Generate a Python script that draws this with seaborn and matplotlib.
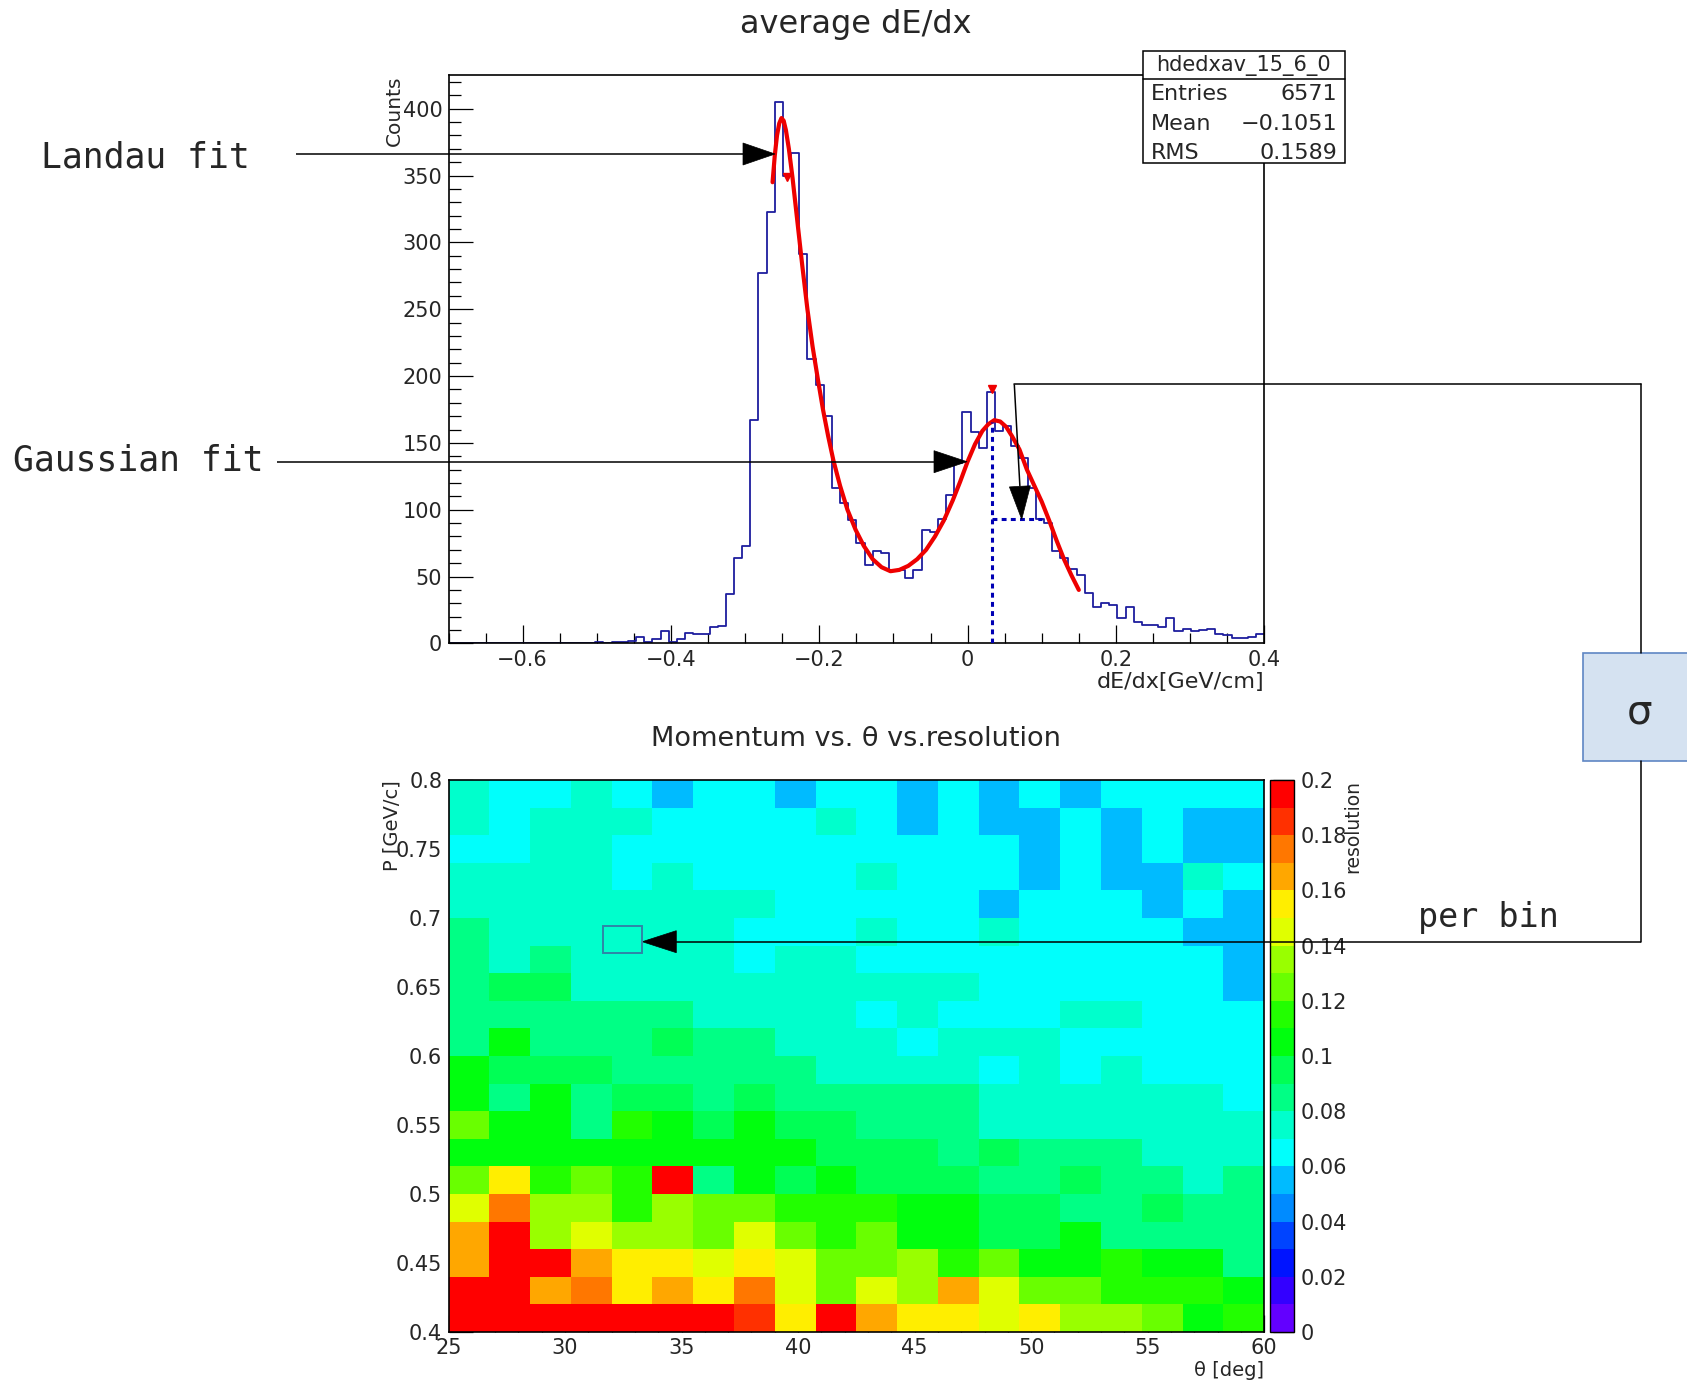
import colorsys
import numpy as np
import pandas as pd
import matplotlib
matplotlib.use("Agg")
import matplotlib.pyplot as plt
import seaborn as sns
from matplotlib.colors import ListedColormap, BoundaryNorm
from matplotlib.patches import Rectangle, Polygon

# ------------------------------------------------------------------ data
# top panel: average dE/dx histogram (100 bins from -0.7 to 0.4)
hist_range = (-0.7, 0.4)
n_bins = 100
counts = ([0] * 18 +
          [1, 0, 1, 1, 2, 5, 1, 3, 9, 1, 3, 8, 7, 7, 12, 13,
           37, 64, 73, 167, 277, 323, 405, 350, 367, 291, 213, 193, 170,
           116, 105, 92, 75, 59, 69, 68, 55, 55, 49, 55, 85, 83, 93, 111, 135,
           173, 158, 146, 188, 159, 163, 148, 139, 116, 93, 90,
           69, 64, 56, 51, 38, 27, 30, 29, 19, 27, 16, 14, 14, 12, 19, 9, 11,
           9, 10, 11, 7, 6, 4, 4, 5, 7])

# fitted Landau + Gaussian curve
fit_x = [-0.263, -0.260, -0.257, -0.254, -0.251, -0.248, -0.245, -0.241, -0.236,
         -0.230, -0.223, -0.216, -0.209, -0.202, -0.195, -0.188, -0.181, -0.172,
         -0.162, -0.151, -0.140, -0.128, -0.116, -0.104, -0.092, -0.080, -0.068,
         -0.056, -0.044, -0.032, -0.020, -0.010, 0.000, 0.010, 0.020, 0.028,
         0.036, 0.044, 0.052, 0.060, 0.070, 0.080, 0.090, 0.100, 0.110, 0.120,
         0.130, 0.140, 0.150]
fit_y = [345, 365, 380, 389, 393, 391, 384, 370, 348,
         318, 283, 250, 222, 198, 175, 155, 137, 118,
         100, 85, 73, 63, 57, 54, 55, 58, 63,
         70, 80, 92, 107, 121, 136, 149, 159, 164,
         167, 166, 162, 155, 145, 130, 118, 106, 92, 77,
         63, 51, 40]

marker_x = [-0.2435, 0.0326]
marker_y = [349, 190]
gauss_mean = 0.0326
gauss_top = 166
sigma_level = 93
sigma_end = 0.100

stats_name = "hdedxav_15_6_0"
stats_labels = ["Entries", "Mean", "RMS"]
stats_values = ["6571", "\u22120.1051", "0.1589"]

# bottom panel: momentum vs theta vs resolution (20 x 20 bins)
theta_range = (25.0, 60.0)
p_range = (0.4, 0.8)
n_theta, n_p = 20, 20
AZ, CY, AQ, SG, G9, GR = 0.055, 0.065, 0.075, 0.085, 0.095, 0.105
L1, L2, L3, L4, YE, OR, O2, O3, RD = 0.115, 0.125, 0.135, 0.145, 0.155, 0.165, 0.175, 0.185, 0.198
res_rows = [  # top row (P = 0.79) first
    [AQ, CY, CY, AQ, CY, AZ, CY, CY, AZ, CY, CY, AZ, CY, AZ, CY, AZ, CY, CY, CY, CY],
    [AQ, CY, AQ, AQ, AQ, CY, CY, CY, CY, AQ, CY, AZ, CY, AZ, AZ, CY, AZ, CY, AZ, AZ],
    [CY, CY, AQ, AQ, CY, CY, CY, CY, CY, CY, CY, CY, CY, CY, AZ, CY, AZ, CY, AZ, AZ],
    [AQ, AQ, AQ, AQ, CY, AQ, CY, CY, CY, CY, AQ, CY, CY, CY, AZ, CY, AZ, AZ, AQ, CY],
    [AQ, AQ, AQ, AQ, AQ, AQ, AQ, AQ, CY, CY, CY, CY, CY, AZ, CY, CY, CY, AZ, CY, AZ],
    [SG, AQ, AQ, AQ, AQ, AQ, AQ, CY, CY, CY, AQ, CY, CY, AQ, CY, CY, CY, CY, AZ, AZ],
    [SG, AQ, SG, AQ, AQ, AQ, AQ, CY, AQ, AQ, CY, CY, CY, CY, CY, CY, CY, CY, CY, AZ],
    [SG, G9, G9, AQ, AQ, AQ, AQ, AQ, AQ, AQ, AQ, AQ, AQ, CY, CY, CY, CY, CY, CY, AZ],
    [SG, SG, SG, SG, SG, SG, AQ, AQ, AQ, AQ, CY, AQ, CY, CY, CY, AQ, AQ, CY, CY, CY],
    [SG, GR, SG, SG, SG, G9, SG, SG, AQ, AQ, AQ, CY, AQ, AQ, AQ, CY, CY, CY, CY, CY],
    [GR, G9, G9, G9, SG, SG, SG, SG, SG, AQ, AQ, AQ, AQ, CY, AQ, CY, AQ, CY, CY, CY],
    [GR, SG, GR, SG, G9, G9, SG, G9, SG, SG, SG, SG, SG, AQ, AQ, AQ, AQ, AQ, AQ, CY],
    [L2, GR, GR, SG, L1, GR, G9, GR, G9, G9, SG, SG, SG, AQ, AQ, AQ, AQ, AQ, AQ, AQ],
    [GR, GR, GR, GR, GR, GR, GR, GR, GR, G9, G9, G9, SG, G9, SG, SG, SG, AQ, AQ, AQ],
    [L2, YE, L1, L2, L1, RD, SG, GR, G9, GR, G9, G9, G9, SG, SG, G9, SG, SG, AQ, SG],
    [L4, O2, L3, L3, L1, L3, L2, L2, L1, L1, L1, GR, GR, G9, G9, SG, SG, G9, SG, SG],
    [OR, RD, L3, L4, L3, L3, L2, L4, L2, L1, L2, GR, GR, G9, G9, GR, SG, SG, SG, SG],
    [OR, RD, RD, OR, YE, YE, L4, YE, L4, L2, L2, L3, L1, L2, GR, GR, L1, GR, GR, SG],
    [RD, RD, OR, O2, YE, OR, YE, O2, L4, L2, L4, L3, OR, L4, L2, L2, L1, L1, L1, GR],
    [RD, RD, RD, RD, RD, RD, RD, O3, YE, RD, OR, YE, YE, L4, YE, L3, L3, L2, GR, L1],
]
z_range = (0.0, 0.2)
n_levels = 20

theta_ticks = [25, 30, 35, 40, 45, 50, 55, 60]
p_ticks = [0.4, 0.45, 0.5, 0.55, 0.6, 0.65, 0.7, 0.75, 0.8]
p_tick_labels = ["0.4", "0.45", "0.5", "0.55", "0.6", "0.65", "0.7", "0.75", "0.8"]
z_ticks = [0, 0.02, 0.04, 0.06, 0.08, 0.1, 0.12, 0.14, 0.16, 0.18, 0.2]
z_tick_labels = ["0", "0.02", "0.04", "0.06", "0.08", "0.1", "0.12", "0.14", "0.16", "0.18", "0.2"]
hx_ticks = [-0.6, -0.4, -0.2, 0.0, 0.2, 0.4]
hx_tick_labels = ["\u22120.6", "\u22120.4", "\u22120.2", "0", "0.2", "0.4"]
hy_ticks = [0, 50, 100, 150, 200, 250, 300, 350, 400]

# ------------------------------------------------------------------ style
sns.set_style("ticks")
plt.rcParams["font.family"] = ["DejaVu Sans"]
plt.rcParams["axes.linewidth"] = 1.2

W, H = 1687, 1384
fig = plt.figure(figsize=(W / 100, H / 100), dpi=100)
fig.patch.set_facecolor("white")


def px_axes(x0, y0, x1, y1, **kw):
    return fig.add_axes([x0 / W, 1 - y1 / H, (x1 - x0) / W, (y1 - y0) / H], **kw)


TICK_FS = 15
hist_color = "#1e1e9e"

# ------------------------------------------------------------------ histogram
ax1 = px_axes(448.5, 75.3, 1264.2, 643.4)
edges = np.linspace(hist_range[0], hist_range[1], n_bins + 1)
centers = 0.5 * (edges[:-1] + edges[1:])
hdf = pd.DataFrame({"dedx": centers, "counts": np.asarray(counts, dtype=float)})
sns.histplot(data=hdf, x="dedx", weights="counts", bins=[float(e) for e in edges],
             element="step", fill=False, color=hist_color, linewidth=1.3, ax=ax1)
fdf = pd.DataFrame({"x": fit_x, "y": fit_y})
sns.lineplot(data=fdf, x="x", y="y", sort=False, estimator=None, color="#ee0000",
             linewidth=3.0, ax=ax1)
ax1.vlines(gauss_mean, 0, gauss_top, colors="#0000b4", linestyles=(0, (1.6, 1.4)),
           linewidth=2.2, zorder=4)
ax1.hlines(sigma_level, gauss_mean, sigma_end, colors="#0000b4",
           linestyles=(0, (1.6, 1.4)), linewidth=2.2, zorder=4)
ax1.plot(marker_x, marker_y, linestyle="none", marker="v", color="#ee0000",
         markersize=6, zorder=5)
ax1.set_xlim(*hist_range)
ax1.set_ylim(0, 425)
ax1.set_xlabel("")
ax1.set_ylabel("")
ax1.set_xticks(hx_ticks)
ax1.set_xticklabels(hx_tick_labels)
ax1.set_xticks(np.arange(-0.7, 0.4001, 0.05), minor=True)
ax1.set_yticks(hy_ticks)
ax1.set_yticklabels([str(v) for v in hy_ticks])
ax1.set_yticks(np.arange(0, 425, 10), minor=True)
ax1.tick_params(which="both", direction="in", top=False, right=False,
                labelsize=TICK_FS, color="black", width=0.9, pad=4.5)
ax1.tick_params(axis="x", which="major", length=13)
ax1.tick_params(axis="x", which="minor", length=7)
ax1.tick_params(axis="y", which="major", length=17)
ax1.tick_params(axis="y", which="minor", length=8.5)
for s in ax1.spines.values():
    s.set_visible(True)
    s.set_color("black")

# ------------------------------------------------------------------ heatmap
ax2 = px_axes(448.5, 780, 1264.2, 1332)
cax = px_axes(1269.5, 780, 1294.3, 1332)
theta_w = (theta_range[1] - theta_range[0]) / n_theta
p_w = (p_range[1] - p_range[0]) / n_p
theta_centers = theta_range[0] + theta_w * (np.arange(n_theta) + 0.5)
p_centers = p_range[1] - p_w * (np.arange(n_p) + 0.5)
df = pd.DataFrame(res_rows, index=np.round(p_centers, 3), columns=np.round(theta_centers, 3))

pal = []
for j in range(n_levels):
    idx = int((j + 0.99) * 50 / n_levels)
    hue = 280.0 - (idx + 1) * (280.0 / 50)
    pal.append(colorsys.hls_to_rgb(hue / 360.0, 0.5, 1.0))
cmap = ListedColormap(pal)
levels = np.linspace(z_range[0], z_range[1], n_levels + 1)
norm = BoundaryNorm(levels, n_levels)

sns.heatmap(df, ax=ax2, cbar_ax=cax, cmap=cmap, norm=norm,
            xticklabels=False, yticklabels=False, linewidths=0)
ax2.set_xlabel("")
ax2.set_ylabel("")
ax2.set_xticks([(t - theta_range[0]) / theta_w for t in theta_ticks])
ax2.set_xticklabels([str(t) for t in theta_ticks], rotation=0)
ax2.set_xticks([(t - theta_range[0]) / theta_w for t in range(25, 61)], minor=True)
ax2.set_yticks([(p_range[1] - p) / p_w for p in p_ticks])
ax2.set_yticklabels(p_tick_labels, rotation=0)
ax2.set_yticks([(p_range[1] - p) / p_w for p in np.arange(0.40, 0.8001, 0.01)], minor=True)
ax2.tick_params(which="both", direction="in", top=False, right=False,
                labelsize=TICK_FS, color="black", width=0.9, pad=4.5)
ax2.tick_params(axis="x", which="major", length=12)
ax2.tick_params(axis="x", which="minor", length=6)
ax2.tick_params(axis="y", which="major", length=17)
ax2.tick_params(axis="y", which="minor", length=8.5)
for s in ax2.spines.values():
    s.set_visible(True)
    s.set_color("black")
    s.set_linewidth(1.2)

cbar = ax2.collections[0].colorbar
cbar.set_ticks(z_ticks)
cbar.set_ticklabels(z_tick_labels)
cbar.minorticks_off()
cax.tick_params(direction="in", length=15, width=0.9, labelsize=TICK_FS,
                right=True, left=False, pad=4.5, color="black")
cbar.outline.set_edgecolor("black")
cbar.outline.set_linewidth(1.0)

# ------------------------------------------------------------------ overlay
ov = fig.add_axes([0, 0, 1, 1], zorder=10)
ov.set_xlim(0, W)
ov.set_ylim(H, 0)
ov.axis("off")
ov.patch.set_alpha(0)

LW = 1.1


def arrow(sx, sy, tx, ty, hl=33, hw=22):
    v = np.array([tx - sx, ty - sy], dtype=float)
    u = v / np.hypot(*v)
    n = np.array([-u[1], u[0]])
    base = np.array([tx, ty]) - hl * u
    ov.plot([sx, base[0]], [sy, base[1]], color="black", lw=LW, solid_capstyle="butt")
    tri = [(tx, ty), tuple(base + n * hw / 2), tuple(base - n * hw / 2)]
    ov.add_patch(Polygon(tri, closed=True, facecolor="black", edgecolor="black", lw=0.5))


# titles and axis titles
ov.text(856, 33, "average dE/dx", ha="center", va="baseline", fontsize=23)
ov.text(856, 746, "Momentum vs. \u03b8 vs.resolution", ha="center", va="baseline", fontsize=19.5)
ov.text(394, 75, "Counts", rotation=90, ha="center", va="top", fontsize=14.5)
ov.text(1264, 682, "dE/dx[GeV/cm]", ha="right", va="center", fontsize=16)
ov.text(392, 780, "P [GeV/c]", rotation=90, ha="center", va="top", fontsize=14)
ov.text(1264, 1370, "\u03b8 [deg]", ha="right", va="center", fontsize=14)
ov.text(1353, 780, "resolution", rotation=90, ha="center", va="top", fontsize=13.5)

# stats box
sx0, sy0, sx1, sy1 = 1142.6, 50.6, 1344.8, 163.5
ov.add_patch(Rectangle((sx0, sy0), sx1 - sx0, sy1 - sy0, facecolor="white",
                       edgecolor="black", lw=1.1, zorder=3))
ov.plot([sx0, sx1], [78.5, 78.5], color="black", lw=1.1, zorder=4)
ov.text((sx0 + sx1) / 2, 71, stats_name, ha="center", va="baseline", fontsize=15, zorder=5)
for lab, val, yb in zip(stats_labels, stats_values, [100.5, 129.6, 158.6]):
    ov.text(1151, yb, lab, ha="left", va="baseline", fontsize=16, zorder=5)
    ov.text(1337, yb, val, ha="right", va="baseline", fontsize=16, zorder=5)

# annotation texts and arrows
mono = "DejaVu Sans Mono"
ov.text(41, 168, "Landau fit", family=mono, fontsize=25, ha="left", va="baseline")
arrow(296, 154, 775, 154, hl=32, hw=22)
ov.text(13, 470.7, "Gaussian fit", family=mono, fontsize=25, ha="left", va="baseline")
arrow(277, 461.7, 967, 461.7, hl=33, hw=22)

# sigma box with connectors
ov.add_patch(Rectangle((1583, 653), 125, 108, facecolor="#d5e2f1", edgecolor="#5f86c4", lw=1.2))
ov.text(1640, 724, "\u03c3", ha="center", va="baseline", fontsize=29)
ov.plot([1640.7, 1640.7], [653, 384.3], color="black", lw=LW)
ov.plot([1640.7, 1014.3], [384.3, 384.3], color="black", lw=LW)
arrow(1014.3, 384.3, 1021.7, 519.3, hl=33, hw=21)
ov.plot([1640.7, 1640.7], [761, 941.7], color="black", lw=LW)
arrow(1640.7, 941.7, 642.3, 941.7, hl=34, hw=22)
ov.add_patch(Rectangle((603.3, 926), 39, 27.3, facecolor="none", edgecolor="#2f86a8", lw=1.4))
ov.text(1418, 926.7, "per bin", family=mono, fontsize=24, ha="left", va="baseline")

fig.savefig("out.png", dpi=100)
